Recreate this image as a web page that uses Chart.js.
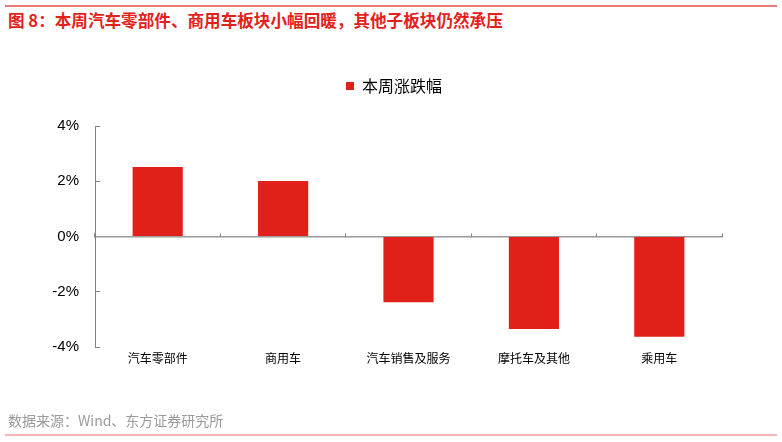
<!DOCTYPE html>
<html>
<head>
<meta charset="utf-8">
<script src="https://cdn.jsdelivr.net/npm/chart.js@4/dist/chart.umd.min.js"></script>
<style>
  html, body { margin: 0; padding: 0; background: #fff; }
  #wrap { position: relative; width: 782px; height: 442px; overflow: hidden; }
  #topline { position: absolute; left: 5px; top: 5px; width: 772px; height: 2px; background: #e87a7a; }
  #botline { position: absolute; left: 5px; top: 434px; width: 772px; height: 2px; background: #f5b3b3; }
  #title { position: absolute; left: 8px; top: 12px; font: bold 16.6px "Noto Sans CJK SC", sans-serif; line-height: 17px; color: #e3211b; white-space: nowrap; }
  #source { position: absolute; left: 8px; top: 413px; font: 14px "Noto Sans CJK SC", sans-serif; line-height: 14px; color: #9a9a9a; white-space: nowrap; }
  #c { position: absolute; left: 0; top: 0; }
</style>
</head>
<body>
<div id="wrap">
  <div id="topline"></div>
  <div id="title">图 8：本周汽车零部件、商用车板块小幅回暖，其他子板块仍然承压</div>
  <canvas id="c" width="782" height="442"></canvas>
  <div id="source">数据来源：Wind、东方证券研究所</div>
  <div id="botline"></div>
</div>
<script>
const categories = ['汽车零部件', '商用车', '汽车销售及服务', '摩托车及其他', '乘用车'];
const weeklyChange = [2.52, 2.01, -2.38, -3.35, -3.63];
const seriesName = '本周涨跌幅';
const yTickLabels = { '-4': '-4%', '-2': '-2%', '0': '0%', '2': '2%', '4': '4%' };

const legendSpacer = {
  id: 'legendSpacer',
  beforeInit(chart) {
    const origFit = chart.legend.fit;
    chart.legend.fit = function () {
      origFit.bind(chart.legend)();
      this.height = 58;
    };
  },
  afterLayout(chart) {
    chart.legend.left += 13;
    chart.legend.right += 13;
  }
};

new Chart(document.getElementById('c'), {
  type: 'bar',
  data: {
    labels: categories,
    datasets: [{
      label: seriesName,
      data: weeklyChange,
      backgroundColor: '#e2201a',
      borderWidth: 0,
      barPercentage: 0.4,
      categoryPercentage: 1.0
    }]
  },
  plugins: [legendSpacer],
  options: {
    responsive: false,
    animation: false,
    events: [],
    layout: { padding: { left: 40, right: 60, top: 68, bottom: 50 } },
    plugins: {
      tooltip: { enabled: false },
      title: { display: false },
      legend: {
        display: true,
        position: 'top',
        align: 'center',
        labels: {
          boxWidth: 8,
          boxHeight: 8,
          padding: 10,
          color: '#000',
          font: { family: '"Noto Sans CJK SC", sans-serif', size: 16 }
        }
      }
    },
    scales: {
      x: {
        type: 'category',
        position: 'bottom',
        offset: true,
        grid: { display: false, drawTicks: false, offset: true },
        border: { display: false },
        ticks: {
          padding: 4,
          color: '#000',
          maxRotation: 0,
          autoSkip: false,
          font: { family: '"Noto Sans CJK SC", sans-serif', size: 12 }
        },
        afterFit(scale) { scale.height = 45; }
      },
      x2: {
        type: 'category',
        axis: 'x',
        labels: categories,
        position: { y: 0 },
        offset: true,
        z: 1,
        grid: {
          offset: true,
          drawOnChartArea: false,
          drawTicks: true,
          tickLength: -4,
          color: '#808080',
          lineWidth: 1
        },
        border: { display: true, color: '#9a9a9a', width: 1.5 },
        ticks: { display: false }
      },
      y: {
        type: 'linear',
        position: 'left',
        min: -4,
        max: 4,
        grid: {
          drawOnChartArea: false,
          drawTicks: true,
          tickLength: -5,
          color: '#808080',
          lineWidth: 1
        },
        border: { display: true, color: '#808080', width: 1 },
        ticks: {
          stepSize: 2,
          padding: 21,
          color: '#000',
          font: { family: '"Liberation Sans", Arial, sans-serif', size: 15 },
          callback: function (value) {
            const key = String(Math.round(Number(value)));
            return yTickLabels[key] !== undefined ? yTickLabels[key] : '';
          }
        },
        afterFit(scale) { scale.width = 55; }
      }
    }
  }
});
</script>
</body>
</html>
